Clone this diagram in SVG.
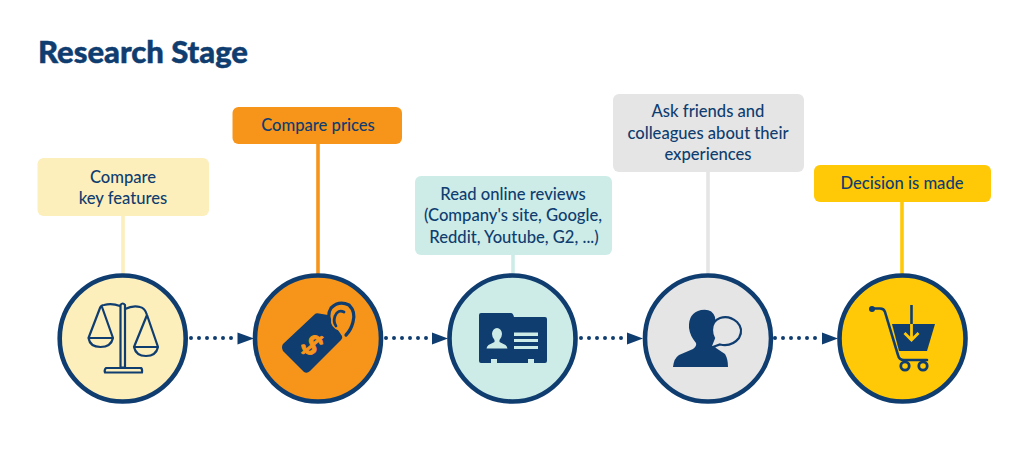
<svg xmlns="http://www.w3.org/2000/svg" width="1024" height="457" viewBox="0 0 1024 457">
<style>
text{font-family:"Lato","Noto Sans",sans-serif;fill:#0f3d70;font-size:16.6px;font-weight:500;text-anchor:middle}
.title{font-size:31px;font-weight:900;text-anchor:start;stroke:#0f3d70;stroke-width:.5}
.circ{stroke:#0f3d70;stroke-width:4.6}
.dots{stroke:#0f3d70;stroke-width:4;stroke-linecap:round;stroke-dasharray:0 8;fill:none}
.ink{fill:#0f3d70}
.line{fill:none;stroke:#0f3d70;stroke-width:2.2;stroke-linecap:round;stroke-linejoin:round}
.lead{stroke-width:3.6;fill:none}
</style>
<rect width="1024" height="457" fill="#fff"/>
<text class="title" x="38" y="62.500">Research Stage</text>
<g id="connectors">
<path class="lead" d="M123 216V274" stroke="#fcefbc"/>
<path class="lead" d="M318 143V274" stroke="#f7951a"/>
<path class="lead" d="M513 254V274" stroke="#cdece7"/>
<path class="lead" d="M708 172V274" stroke="#e5e5e5"/>
<path class="lead" d="M902 201V274" stroke="#ffc907"/>
<path class="dots" d="M191 338H232M386 338H427M581 338H622M775 338H816"/>
<path class="ink" d="M237.500 332.500L254 338.500L237.500 344.500ZM432 332.500L448 338.500L432 344.500ZM627 332.500L643 338.500L627 344.500ZM822 332.500L838 338.500L822 344.500Z"/>
</g>
<g id="n1">
<rect x="37.500" y="158" width="171.500" height="58" rx="6" fill="#fcefbc"/>
<text x="123" y="182.500">Compare</text><text x="123" y="203.500">key features</text>
<circle class="circ" cx="122.700" cy="338.500" r="63" fill="#fcefbc"/>
<path class="line" d="M120.500 305Q122.700 302 125 305V367.500H120.500ZM106 368H141Q142.500 369 142 372.500H105Q104 370 106 368Z"/>
<path class="line" d="M120 306Q112 303 104 305Q101 305 100 308L88.500 338Q90 347 100.500 347Q111 347 113 338L102 307M125 309Q133 305 140 307Q145 308 147 315L158 347Q156 356 146 356Q136 356 134 347L147 315M88.500 338H113M134 347H158"/>
</g>
<g id="n2">
<rect x="232.500" y="107" width="169.500" height="37" rx="6" fill="#f7951a"/>
<text x="318" y="130.500">Compare prices</text>
<circle class="circ" cx="318" cy="338.500" r="63" fill="#f7951a"/>
<path class="ink" d="M283 344L315 314Q316 313 319 313.500L328 315L342 336Q343 338 341 340L310 371Q307 374 304 372L283 351Q281 347 283 344Z"/>
<text transform="translate(312 345) rotate(45)" y="10" style="font-size:28px;font-weight:900;fill:#f7951a;stroke:#f7951a;stroke-width:.8">$</text>
<path d="M332 326Q326 316 331 308Q339 300 349 305Q356 312 353 322Q351 330 346 335" fill="none" stroke="#0f3d70" stroke-width="3.200" stroke-linecap="round"/>
<path d="M342 312Q336 312 333 319Q332 326 340 329" fill="none" stroke="#f7951a" stroke-width="4" stroke-linecap="round"/>
<path d="M344 312Q338 309 335 316Q333 322 336 326" fill="none" stroke="#0f3d70" stroke-width="2.800" stroke-linecap="round"/>
</g>
<g id="n3">
<rect x="415" y="176" width="197" height="79" rx="6" fill="#cdece7"/>
<text x="513" y="199.500">Read online reviews</text><text x="513" y="221">(Company's site, Google,</text><text x="514" y="242.500">Reddit, Youtube, G2, ...)</text>
<circle class="circ" cx="512.500" cy="338.500" r="63" fill="#cdece7"/>
<path class="ink" d="M481 313H511Q513 313 514 317H545Q547 317 547 319V361Q547 363 545 363H534V359H528V363H497V359H491V363H481Q479 363 479 361V315Q479 313 481 313Z"/>
<path d="M497 328a5 6 0 0 1 5 6q0 3-2.500 6v2l6 3q1.500 1 2 3.500h-21q.5-2.500 2-3.500l6-3v-2q-2.500-3-2.500-6a5 6 0 0 1 5-6ZM514 332.500h24v3.500h-24ZM514 339h24v3h-24ZM514 346h24v3h-24Z" fill="#cdece7"/>
</g>
<g id="n4">
<rect x="613" y="94" width="191" height="78" rx="6" fill="#e5e5e5"/>
<text x="708" y="117">Ask friends and</text><text x="708" y="138.500">colleagues about their</text><text x="708" y="159.500">experiences</text>
<circle class="circ" cx="708" cy="338.500" r="63" fill="#e5e5e5"/>
<path class="ink" d="M701 310Q712 308 715 317Q716 325 713 332L713 338Q712 344 716 348L725 354Q728 359 728 367H673Q674 358 679 355L693 349Q697 346 696 343Q690 336 689 328Q688 313 701 310Z"/>
<path d="M714 338L710 348L720 344.500Q732 347 739 338Q744 329 737 322Q729 315 720 318Q712 321 712 330Q712 335 714 338Z" fill="#e5e5e5" stroke="#0f3d70" stroke-width="2.200"/>
</g>
<g id="n5">
<rect x="814" y="165" width="177" height="37" rx="6" fill="#ffc907"/>
<text x="902" y="188.500">Decision is made</text>
<circle class="circ" cx="902.500" cy="338.500" r="63" fill="#ffc907"/>
<path d="M872 308.500H880Q884 308.500 885 312L898 355Q899 360 904 360H927" fill="none" stroke="#0f3d70" stroke-width="2.600" stroke-linecap="round"/>
<circle class="ink" cx="872" cy="309" r="3"/>
<path class="ink" d="M892 324H935L927 351H899Z"/>
<path d="M911.500 305V325" stroke="#0f3d70" stroke-width="2.600"/>
<path d="M911.500 324V339M904.500 333L911.500 340L918.500 333" fill="none" stroke="#ffc907" stroke-width="2.800"/>
<circle cx="905" cy="366" r="4.200" fill="none" stroke="#0f3d70" stroke-width="2.800"/>
<circle cx="923" cy="366" r="4.200" fill="none" stroke="#0f3d70" stroke-width="2.800"/>
</g>
</svg>
